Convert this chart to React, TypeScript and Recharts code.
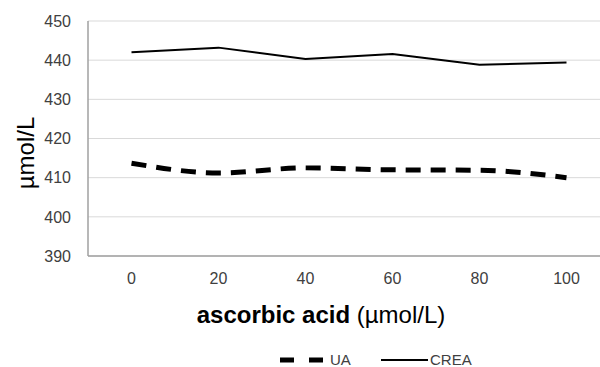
import React from 'react';
import { LineChart, Line, XAxis, YAxis, CartesianGrid, Legend, Label } from 'recharts';

// ascorbic acid concentration (µmol/L)
const doses = ['0', '20', '40', '60', '80', '100'];
// measured values (µmol/L)
const uaValues = [413.7, 411.2, 412.5, 412.0, 411.9, 410.0];
const creaValues = [442.0, 443.2, 440.3, 441.6, 438.8, 439.4];
const yTicks = [390, 400, 410, 420, 430, 440, 450];

const FONT = '"Liberation Sans", Arial, sans-serif';

const chartData = doses.map((d, i) => ({ dose: d, UA: uaValues[i], CREA: creaValues[i] }));

// Legend laid out like the original: dashed thick UA, thin solid CREA
const renderLegend = () => (
  <svg width={600} height={30} style={{ display: 'block' }}>
    <line x1={252} x2={295} y1={23} y2={23} stroke="#000" strokeWidth={5} strokeDasharray="14 15" />
    <text x={302} y={28} fontSize={15} fill="#404040" fontFamily={FONT}>UA</text>
    <line x1={353} x2={400} y1={23} y2={23} stroke="#000" strokeWidth={2} />
    <text x={402} y={28} fontSize={15} fill="#404040" fontFamily={FONT}>CREA</text>
  </svg>
);

const XTitle = (props: any) => {
  const { viewBox } = props;
  return (
    <text x={321} y={viewBox.y + 67} textAnchor="middle" fontSize={24} fill="#000" fontFamily={FONT}>
      <tspan fontWeight="bold">ascorbic acid</tspan>
      <tspan> (µmol/L)</tspan>
    </text>
  );
};

const YTitle = () => (
  <text
    x={25}
    y={153}
    transform="rotate(-90 25 153)"
    textAnchor="middle"
    dominantBaseline="central"
    fontSize={24}
    fill="#000"
    fontFamily={FONT}
  >
    µmol/L
  </text>
);

const App: React.FC = () => {
  return (
    <div style={{ position: 'absolute', left: 0, top: 0, width: 600, height: 367, overflow: 'hidden', background: '#fff' }}>
      <LineChart width={610} height={367} data={chartData} margin={{ top: 21, right: 0, left: 28, bottom: 0 }}>
        <CartesianGrid vertical={false} stroke="#d9d9d9" strokeWidth={1} />
        <XAxis
          dataKey="dose"
          scale="band"
          height={81}
          tickLine={false}
          tickSize={0}
          tickMargin={17}
          stroke="#a0a0a0"
          strokeWidth={1.5}
          tick={{ fill: '#404040', fontSize: 16, fontFamily: FONT }}
        >
          <Label content={<XTitle />} />
        </XAxis>
        <YAxis
          domain={[390, 450]}
          ticks={yTicks}
          width={60}
          tickLine={false}
          tickSize={0}
          tickMargin={17}
          stroke="#a0a0a0"
          strokeWidth={1.5}
          tick={{ fill: '#404040', fontSize: 16, fontFamily: FONT }}
        >
          <Label content={<YTitle />} />
        </YAxis>
        <Legend verticalAlign="bottom" height={30} content={renderLegend} />
        <Line
          type="monotone"
          dataKey="UA"
          stroke="#000"
          strokeWidth={5}
          strokeDasharray="15 10"
          dot={false}
          isAnimationActive={false}
        />
        <Line
          type="linear"
          dataKey="CREA"
          stroke="#000"
          strokeWidth={2}
          dot={false}
          isAnimationActive={false}
        />
      </LineChart>
    </div>
  );
};

export default App;
